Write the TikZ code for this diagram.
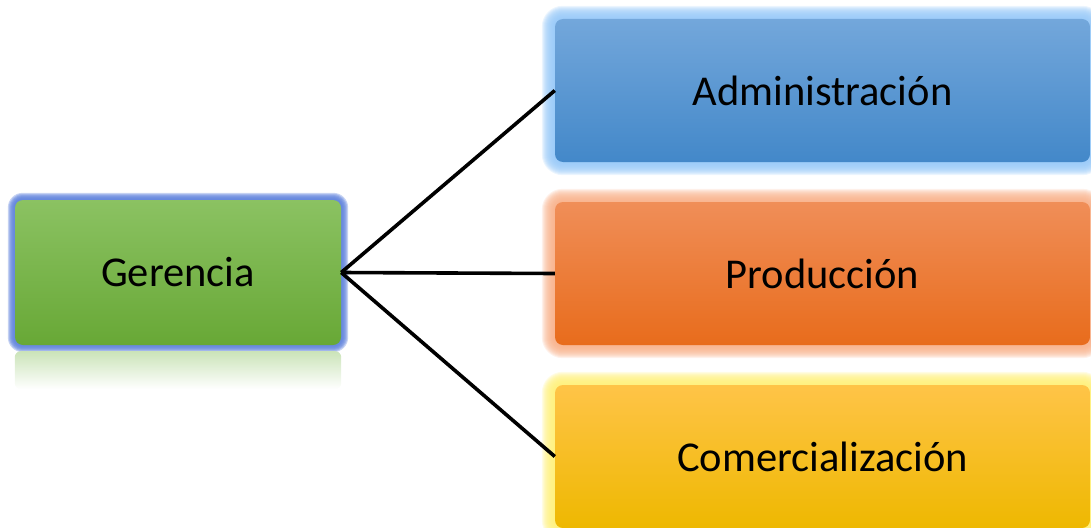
\documentclass[tikz,border=0pt]{standalone}
\usepackage{fontspec}
\setmainfont{Carlito}
\usetikzlibrary{backgrounds,calc,fadings}

\definecolor{grTop}{RGB}{139,194,98}
\definecolor{grBot}{RGB}{104,168,54}
\definecolor{blTop}{RGB}{115,167,219}
\definecolor{blBot}{RGB}{67,136,201}
\definecolor{orTop}{RGB}{240,142,88}
\definecolor{orBot}{RGB}{232,108,28}
\definecolor{yeTop}{RGB}{255,196,72}
\definecolor{yeBot}{RGB}{238,184,0}
\definecolor{glowGr}{RGB}{95,130,220}
\definecolor{glowBl}{RGB}{150,200,248}
\definecolor{glowOr}{RGB}{248,175,135}
\definecolor{glowYe}{RGB}{255,240,120}

\tikzset{
  unit/.style={rounded corners=8pt, inner sep=0pt, text=black,
    font=\fontsize{42.5}{50}\selectfont},
  boss/.style={unit, minimum width=326pt, minimum height=145pt,
    top color=grTop, bottom color=grBot},
  dept/.style={unit, minimum width=535pt, minimum height=143pt},
  admin/.style={dept, top color=blTop, bottom color=blBot},
  prod/.style={dept, top color=orTop, bottom color=orBot},
  comm/.style={dept, top color=yeTop, bottom color=yeBot},
  link/.style={draw=black, line width=3.6pt}
}

% soft halo around a node: #1 node, #2 colour, #3 number of 1pt rings, #4 strength
\newcommand{\halo}[4]{%
  \foreach \i in {1,...,#3}{%
    \pgfmathsetmacro{\rr}{8+\i}%
    \pgfmathsetmacro{\op}{#4/#3}%
    \fill[#2, opacity=\op, rounded corners=\rr pt]
      ([shift={(-\i,-\i)}]#1.north west) rectangle ([shift={(\i,\i)}]#1.south east);
  }%
}

\begin{document}
\begin{tikzpicture}[x=1pt, y=-1pt]
  \useasboundingbox (0,0) rectangle (1091,527);

  \node[boss]  (g) at (178,272.5) {Gerencia};
  \node[admin] (a) at (822.5,90.5) {Administración};
  \node[prod]  (p) at (822.5,273.5) {Producción};
  \node[comm]  (c) at (822.5,456.5) {Comercialización};

  \begin{scope}[on background layer]
    \halo{g}{glowGr}{7}{2.4}
    \halo{a}{glowBl}{13}{2.4}
    \halo{p}{glowOr}{13}{2.2}
    \halo{c}{glowYe}{13}{2.4}
    % faded reflection below the green box
    \shade[top color=grTop!45!white, bottom color=white, rounded corners=6pt]
      ($(g.south west)+(0,6)$) rectangle ($(g.south east)+(0,44)$);
  \end{scope}

  \draw[link] (g.east) -- (a.west);
  \draw[link] (g.east) -- (p.west);
  \draw[link] (g.east) -- (c.west);
\end{tikzpicture}
\end{document}
